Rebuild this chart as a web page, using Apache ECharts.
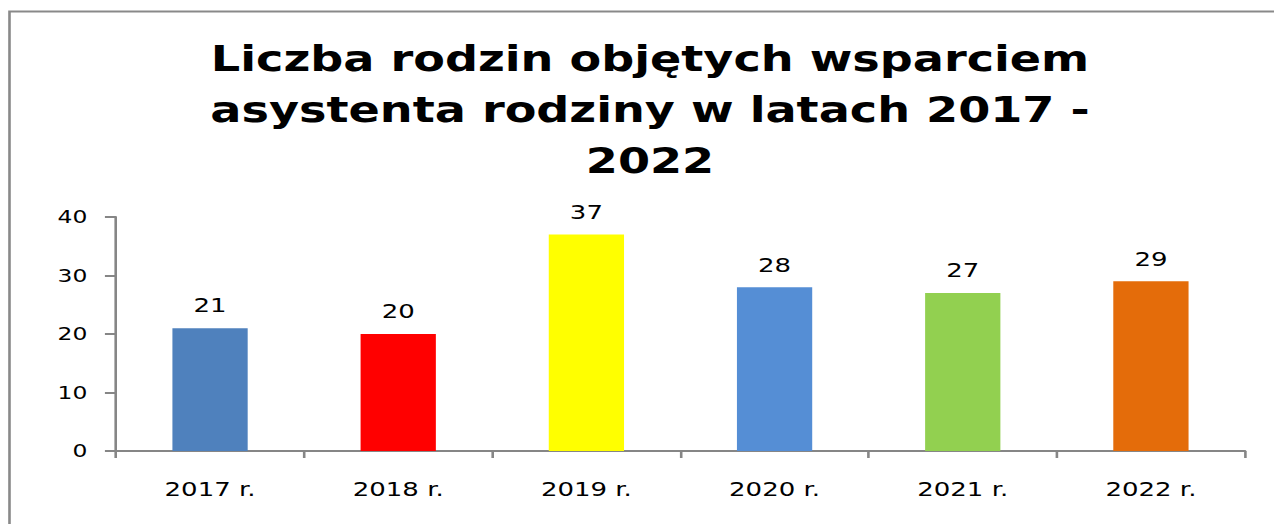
<!DOCTYPE html>
<html>
<head>
<meta charset="utf-8">
<script src="https://cdn.jsdelivr.net/npm/echarts@6/dist/echarts.min.js"></script>
<style>
  html, body { margin: 0; padding: 0; background: #fff; overflow: hidden; }
  /* reference is horizontally stretched, so draw narrower and stretch */
  #chart { width: 980px; height: 524px; transform: scaleX(1.3); transform-origin: 0 0; }
</style>
</head>
<body>
<div id="chart"></div>
<script>
const years = ['2017 r.', '2018 r.', '2019 r.', '2020 r.', '2021 r.', '2022 r.']
const families = [21, 20, 37, 28, 27, 29]
const barColors = ['#4F81BD', '#FF0000', '#FFFF00', '#558ED5', '#92D050', '#E46C0A']
const yTicks = [0, 10, 20, 30, 40]

const axisGray = '#868686'
const chart = echarts.init(document.getElementById('chart'), null, { renderer: 'svg' })

const option = {
  backgroundColor: '#fff',
  animation: false,
  title: {
    text: 'Liczba rodzin objętych wsparciem\nasystenta rodziny w latach 2017 -\n2022',
    left: 495,
    top: 28,
    textAlign: 'center',
    textStyle: {
      fontFamily: 'DejaVu Sans',
      fontWeight: 'bold',
      fontSize: 35.5,
      lineHeight: 51,
      color: '#000'
    }
  },
  graphic: [
    {
      type: 'rect',
      shape: { x: 7.3, y: 11.5, width: 1200, height: 800 },
      style: { fill: 'none', stroke: '#898989', lineWidth: 2 },
      silent: true
    }
  ],
  grid: {
    left: 89.2,
    right: 22.3,
    top: 217,
    bottom: 73
  },
  xAxis: {
    type: 'category',
    data: years,
    axisLine: { lineStyle: { color: axisGray, width: 2 } },
    axisTick: { show: true, length: 7, lineStyle: { color: axisGray, width: 2 } },
    axisLabel: {
      margin: 28,
      fontFamily: 'DejaVu Sans',
      fontSize: 20,
      color: '#000'
    }
  },
  yAxis: {
    type: 'value',
    min: yTicks[0],
    max: yTicks[yTicks.length - 1],
    interval: 10,
    axisLine: { show: true, lineStyle: { color: axisGray, width: 2 } },
    axisTick: { show: true, length: 8.5, lineStyle: { color: axisGray, width: 2 } },
    splitLine: { show: false },
    axisLabel: {
      margin: 22,
      fontFamily: 'DejaVu Sans',
      fontSize: 18,
      color: '#000'
    }
  },
  series: [
    {
      type: 'bar',
      barWidth: '40%',
      data: families.map((v, i) => ({
        value: v,
        itemStyle: { color: barColors[i] }
      })),
      label: {
        show: true,
        position: 'top',
        distance: 13,
        fontFamily: 'DejaVu Sans',
        fontSize: 20,
        color: '#000'
      }
    }
  ]
}

chart.setOption(option)
</script>
</body>
</html>
